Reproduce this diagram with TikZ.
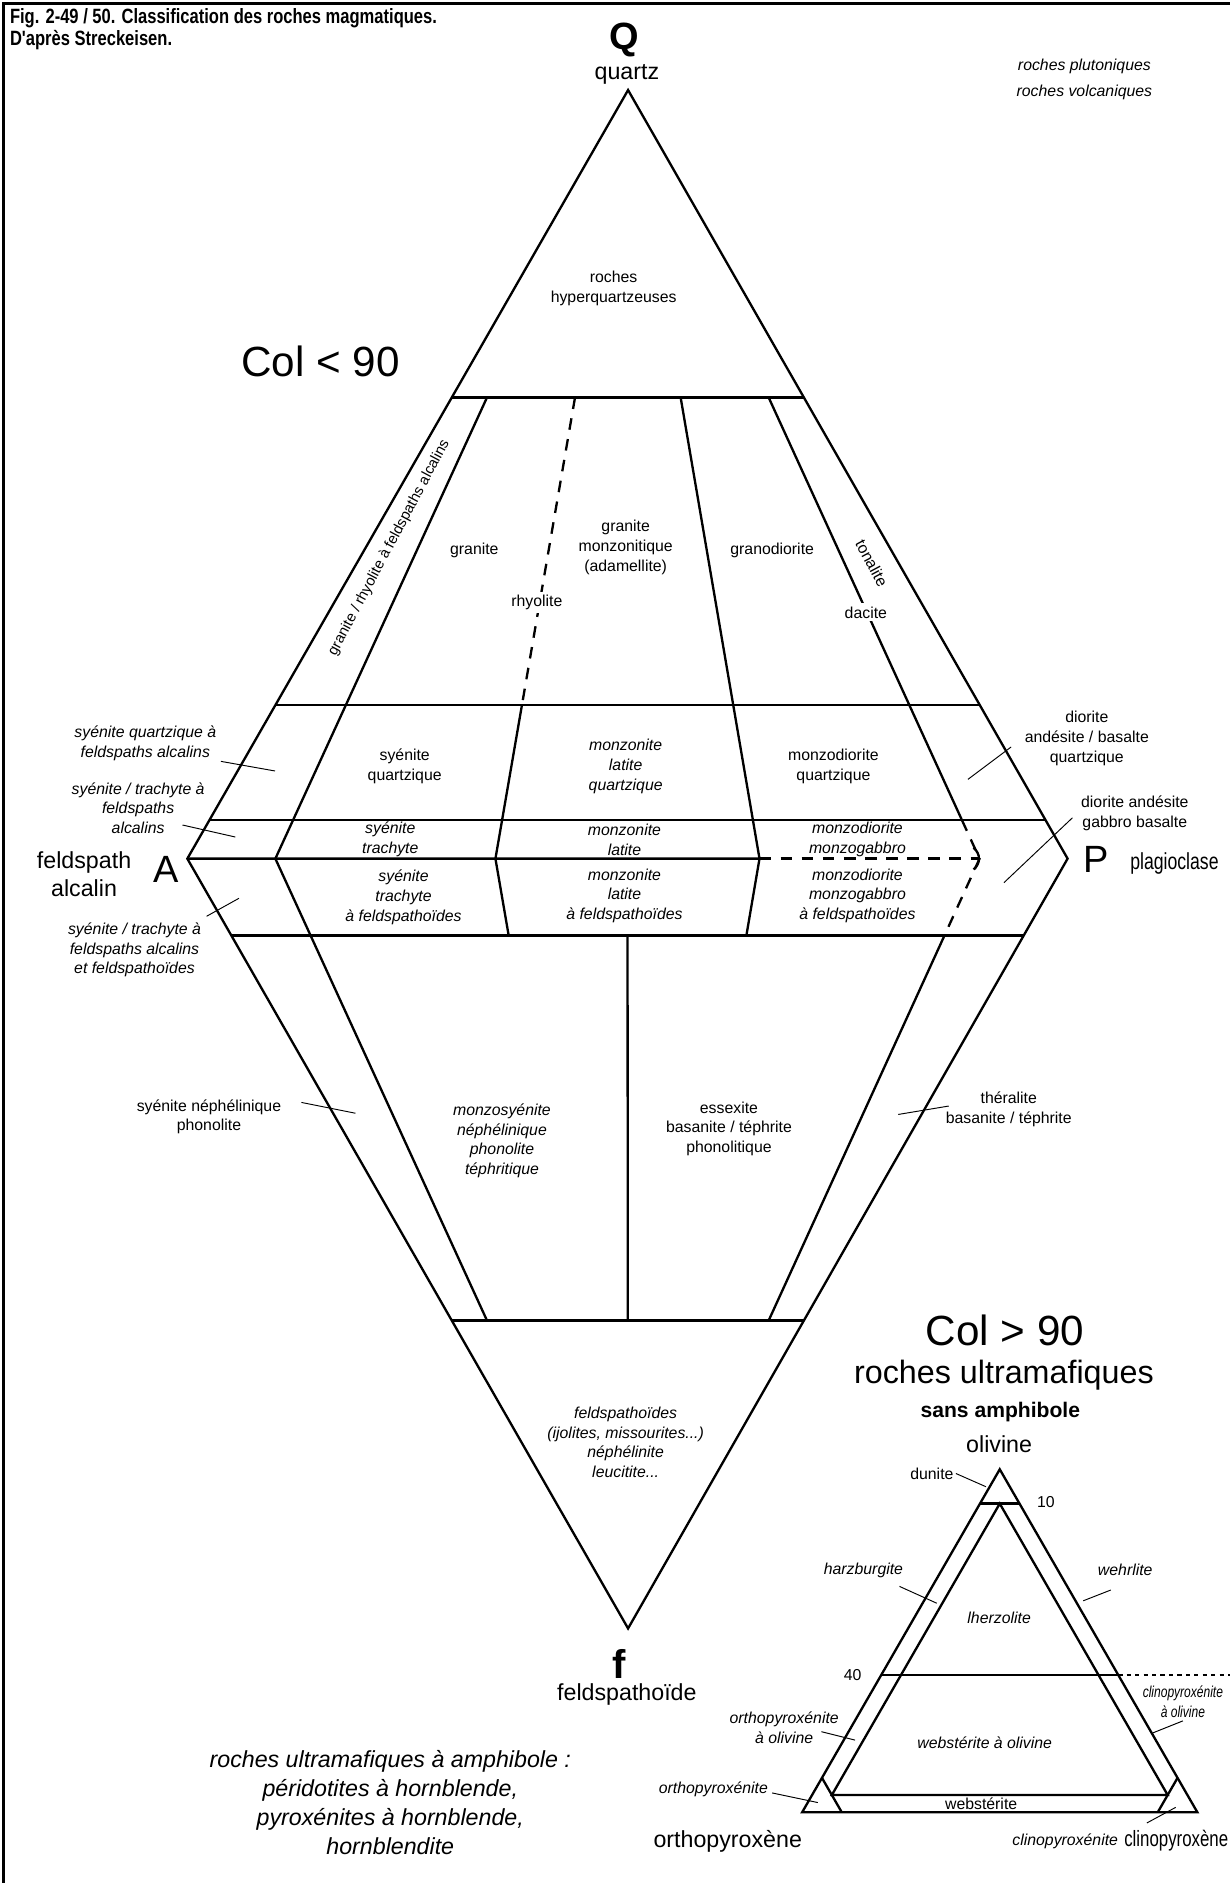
\documentclass[tikz,border=0pt]{standalone}
\usepackage{fontspec}
\setmainfont{Liberation Sans}
\newfontfamily\capfont[FakeStretch=0.8]{Liberation Sans}
\newfontfamily\narrowfont[FakeStretch=0.76]{Liberation Sans}
\usetikzlibrary{calc}

\tikzset{
  bord/.style={line width=1.1pt, line join=miter},
  brk/.style={line width=1.1pt, dash pattern=on 5.5pt off 4.5pt},
  fine/.style={line width=0.8pt, dash pattern=on 2pt off 2pt},
  lead/.style={line width=0.45pt},
  lbl/.style={font=\fontsize{7.5}{9.4}\selectfont, align=center, inner sep=0.5pt},
  ilbl/.style={lbl, font=\fontsize{7.5}{9.4}\selectfont\itshape},
  midtxt/.style={font=\fontsize{11}{13}\selectfont, align=center, inner sep=0.5pt},
  pole/.style={font=\fontsize{18}{20}\selectfont, inner sep=0pt},
  big/.style={font=\fontsize{20}{22}\selectfont, inner sep=0pt},
}

\begin{document}
\begin{tikzpicture}[x=0.2mm, y=-0.2mm]
  \useasboundingbox (0,0) rectangle (1024,1568);

  % frame and heading
  \draw[line width=1.1pt] (3,1568) -- (3,3) -- (1024,3);
  \node[anchor=north west, align=left, inner sep=0pt,
        font=\capfont\bfseries\fontsize{9.8}{8.8}\selectfont] (head) at (8,7)
    {Fig. 2-49 / 50. Classification des roches magmatiques.\\D'après Streckeisen.};
  \node[ilbl] (plu) at (903,55) {roches plutoniques};
  \node[ilbl] (vol) at (903,77) {roches volcaniques};

  % QAPF double triangle
  \coordinate (Q) at (523,75);
  \coordinate (A) at (156,715);
  \coordinate (P) at (889,715);
  \coordinate (F) at (523,1356);
  \draw[bord] (Q) -- (A) -- (F) -- (P) -- cycle;

  % P/(A+P) ratios on the A-P side
  \coordinate (ap10) at (barycentric cs:A=.9,P=.1);
  \coordinate (ap35) at (barycentric cs:A=.65,P=.35);
  \coordinate (ap50) at (barycentric cs:A=.5,P=.5);
  \coordinate (ap65) at (barycentric cs:A=.35,P=.65);
  \coordinate (ap90) at (barycentric cs:A=.1,P=.9);

  % Q = 60, 20, 5 and F = 10, 60
  \foreach \w/\v in {.6/.4,.2/.8,.05/.95}
    \draw[bord] (barycentric cs:Q=\w,A=\v) -- (barycentric cs:Q=\w,P=\v);
  \foreach \w/\v in {.1/.9,.6/.4}
    \draw[bord] (barycentric cs:F=\w,A=\v) -- (barycentric cs:F=\w,P=\v);

  % A-P side itself
  \draw[bord] (A) -- (ap65);
  \draw[brk] (ap65) -- (ap90);
  \draw[bord] ($(ap90)+(-5,-9)$) .. controls ($(ap90)+(1,-4)$) and ($(ap90)+(1,4)$) .. ($(ap90)+(-5,9)$);

  % ratio lines
  \draw[bord] (barycentric cs:Q=.6,ap10=.4) -- (ap10) -- (barycentric cs:F=.6,ap10=.4);
  \draw[brk] (barycentric cs:Q=.6,ap35=.4) -- (barycentric cs:Q=.2,ap35=.8);
  \draw[bord] (barycentric cs:Q=.2,ap35=.8) -- (ap35) -- (barycentric cs:F=.1,ap35=.9);
  \draw[bord] (barycentric cs:Q=.6,ap65=.4) -- (ap65) -- (barycentric cs:F=.1,ap65=.9);
  \draw[bord] (barycentric cs:Q=.6,ap90=.4) -- (barycentric cs:Q=.05,ap90=.95);
  \draw[brk] (barycentric cs:Q=.05,ap90=.95) -- (ap90) -- (barycentric cs:F=.1,ap90=.9);
  \draw[bord] (barycentric cs:F=.1,ap90=.9) -- (barycentric cs:F=.6,ap90=.4);
  \draw[bord] (barycentric cs:F=.1,ap50=.9) -- (barycentric cs:F=.6,ap50=.4);

  % poles
  \node[pole, font=\fontsize{18}{20}\selectfont\bfseries] (Qlab) at (520,33) {Q};
  \node[midtxt] (qtz) at (522,62) {quartz};
  \node[pole] (Alab) at (138,724) {A};
  \node[midtxt] (fa) at (70,728) {feldspath\\alcalin};
  \node[pole] (Plab) at (913,716) {P};
  \node[midtxt, anchor=west, font=\narrowfont\fontsize{11}{13}\selectfont] (plag) at (940,719) {plagioclase};
  \node[pole, font=\fontsize{19}{20}\selectfont\bfseries] (flab) at (516,1386) {f};
  \node[midtxt] (feld) at (522,1411) {feldspathoïde};
  \node[big] (colA) at (267,301) {Col < 90};

  % fields above Q = 20
  \node[lbl] (hyq) at (511,240) {roches\\hyperquartzeuses};
  \node[lbl, rotate=62, font=\fontsize{7}{8}\selectfont] (afg) at (324,456) {granite / rhyolite à feldspaths alcalins};
  \node[lbl] (gra) at (395,458) {granite};
  \node[lbl, fill=white, inner sep=1.5pt] (rhy) at (447,502) {rhyolite};
  \node[lbl] (mzg) at (521,456) {granite\\monzonitique\\(adamellite)};
  \node[lbl] (grd) at (643,458) {granodiorite};
  \node[lbl, rotate=-62] (ton) at (726,469) {tonalite};
  \node[lbl, fill=white, inner sep=1.5pt] (dac) at (721,510) {dacite};

  % fields between Q = 20 and F = 10
  \node[lbl] (sq) at (337,638) {syénite\\quartzique};
  \node[ilbl] (mlq) at (521,638) {monzonite\\latite\\quartzique};
  \node[lbl] (mdq) at (694,638) {monzodiorite\\quartzique};
  \node[ilbl] (st) at (325,699) {syénite\\trachyte};
  \node[ilbl] (ml) at (520,699) {monzonite\\latite};
  \node[ilbl] (mdg) at (714,699) {monzodiorite\\monzogabbro};
  \node[ilbl] (stf) at (336,747) {syénite\\trachyte\\à feldspathoïdes};
  \node[ilbl] (mlf) at (520,746) {monzonite\\latite\\à feldspathoïdes};
  \node[ilbl] (mdgf) at (714,746) {monzodiorite\\monzogabbro\\à feldspathoïdes};

  % fields below F = 10
  \node[ilbl] (msn) at (418,950) {monzosyénite\\néphélinique\\phonolite\\téphritique};
  \node[lbl] (ess) at (607,940) {essexite\\basanite / téphrite\\phonolitique};
  \node[ilbl] (foi) at (521,1201) {feldspathoïdes\\(ijolites, missourites...)\\néphélinite\\leucitite...};

  % outer names
  \node[ilbl] (lsqa) at (121,619) {syénite quartzique à\\feldspaths alcalins};
  \node[ilbl] (lsta) at (115,673) {syénite / trachyte à\\feldspaths\\alcalins};
  \node[ilbl] (lstf) at (112,791) {syénite / trachyte à\\feldspaths alcalins\\et feldspathoïdes};
  \node[lbl] (sn) at (174,930) {syénite néphélinique\\phonolite};
  \node[lbl] (dq) at (905,615) {diorite\\andésite / basalte\\quartzique};
  \node[lbl] (dg) at (945,677) {diorite andésite\\gabbro basalte};
  \node[lbl] (the) at (840,924) {théralite\\basanite / téphrite};

  % ultramafic triangle
  \node[big] (colB) at (837,1108) {Col > 90};
  \node[font=\fontsize{15.3}{17}\selectfont, inner sep=0pt] (ruf) at (836,1145) {roches ultramafiques};
  \node[font=\fontsize{10}{12}\selectfont\bfseries, inner sep=0pt] (sam) at (833,1176) {sans amphibole};
  \node[midtxt] (oliv) at (832,1203) {olivine};
  \coordinate (Ol) at (832.5,1223.5);
  \coordinate (Opx) at (668,1509);
  \coordinate (Cpx) at (997,1509);
  \draw[bord] (Ol) -- (Opx) -- (Cpx) -- cycle;
  % dunite, 40 and 5 percent olivine
  \draw[bord] (barycentric cs:Ol=.9,Opx=.1) -- (barycentric cs:Ol=.9,Cpx=.1);
  \draw[bord] (barycentric cs:Ol=.4,Opx=.6) -- (barycentric cs:Ol=.4,Cpx=.6) coordinate (o40);
  \draw[fine] (o40) -- ++(100,0);
  \coordinate (dc) at (barycentric cs:Ol=.9,Opx=.05,Cpx=.05);
  \coordinate (wl) at (barycentric cs:Ol=.05,Opx=.9,Cpx=.05);
  \coordinate (wr) at (barycentric cs:Ol=.05,Opx=.05,Cpx=.9);
  \draw[bord] (wl) -- (dc) -- (wr) -- cycle;
  % pyroxenite corners
  \draw[bord] (barycentric cs:Ol=.1,Opx=.9) -- (barycentric cs:Opx=.9,Cpx=.1);
  \draw[bord] (barycentric cs:Ol=.1,Cpx=.9) -- (barycentric cs:Opx=.1,Cpx=.9);

  \node[lbl] (dun) at (776,1227) {dunite};
  \node[lbl] (t10) at (871,1251) {10};
  \node[ilbl] (harz) at (719,1308) {harzburgite};
  \node[ilbl] (lhz) at (832,1347) {lherzolite};
  \node[ilbl] (weh) at (937,1307) {wehrlite};
  \node[lbl] (t40) at (710,1395) {40};
  \node[ilbl] (opxo) at (653,1439) {orthopyroxénite\\à olivine};
  \node[ilbl] (webo) at (820,1451) {webstérite à olivine};
  \node[ilbl, font=\narrowfont\fontsize{7.5}{9.4}\selectfont\itshape] (cpxo) at (985,1417) {clinopyroxénite\\à olivine};
  \node[ilbl] (opxt) at (594,1490) {orthopyroxénite};
  \node[lbl] (web) at (817,1502) {webstérite};
  \node[ilbl] (cpxt) at (887,1533) {clinopyroxénite};
  \node[midtxt] (opxn) at (606,1533) {orthopyroxène};
  \node[midtxt, anchor=west, font=\narrowfont\fontsize{10.5}{13}\selectfont] (cpxn) at (935,1533) {clinopyroxène};

  \node[font=\fontsize{11}{13.7}\selectfont\itshape, align=center] (amph) at (325,1501)
    {roches ultramafiques à amphibole :\\péridotites à hornblende,\\pyroxénites à hornblende,\\hornblendite};

  % leader lines
  \foreach \n/\xa/\ya/\xb/\yb in {1/184/634/229/642, 2/152/687/196/697,
      3/172/763/199/748, 4/251/918/296/927, 5/842/622/806/649,
      6/893/681/836/735, 7/790/921/748/928, 8/796/1227/821/1238,
      9/749/1321/780/1335, 10/925/1324/902/1333, 11/684/1442/712/1449,
      12/985/1433/960/1443, 13/643/1493/681/1501, 14/955/1518/979/1505} {
    \coordinate (k\n) at (\xa,\ya);
    \coordinate (e\n) at (\xb,\yb);
    \draw[lead] (k\n) -- (e\n);
  }
\end{tikzpicture}
\end{document}
